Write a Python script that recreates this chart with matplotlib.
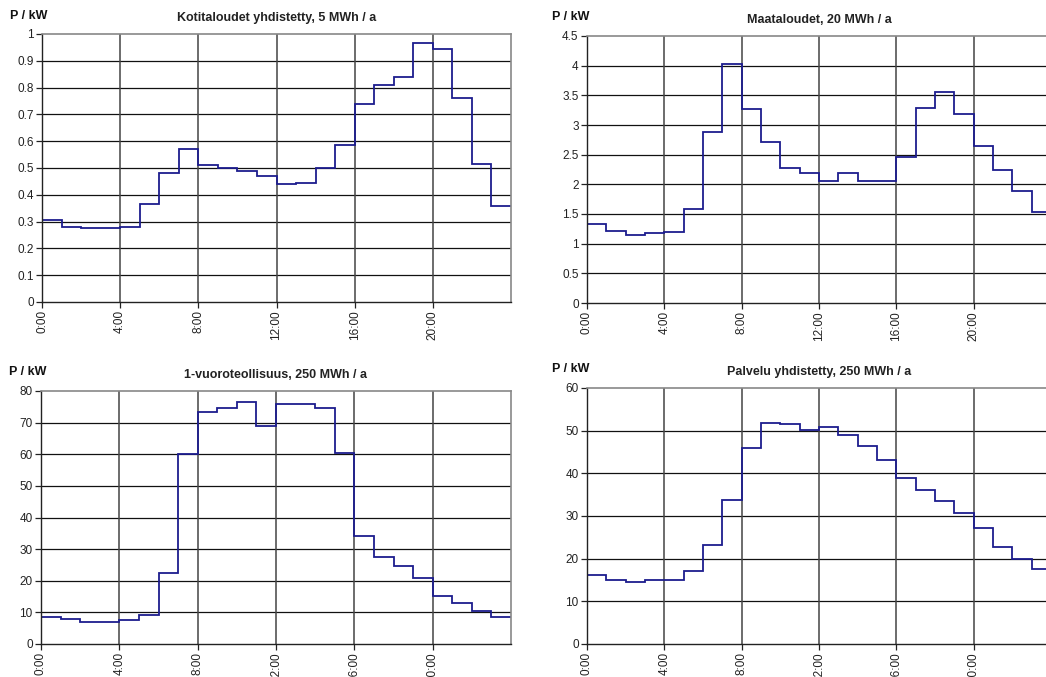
import matplotlib
matplotlib.use("Agg")
import matplotlib.pyplot as plt
import numpy as np

plt.rcParams['font.family'] = ['Liberation Sans', 'DejaVu Sans']

hours = list(range(25))
xtick_hours = [0, 4, 8, 12, 16, 20]
xtick_labels = ["0:00", "4:00", "8:00", "12:00", "16:00", "20:00"]

title_koti = "Kotitaloudet yhdistetty, 5 MWh / a"
koti = [0.305, 0.28, 0.275, 0.275, 0.28, 0.365, 0.48, 0.57, 0.51, 0.50, 0.49, 0.47,
        0.44, 0.445, 0.50, 0.585, 0.74, 0.81, 0.84, 0.965, 0.945, 0.76, 0.515, 0.36]
koti_yticks = [0, 0.1, 0.2, 0.3, 0.4, 0.5, 0.6, 0.7, 0.8, 0.9, 1]
koti_ylabels = ["0", "0.1", "0.2", "0.3", "0.4", "0.5", "0.6", "0.7", "0.8", "0.9", "1"]

title_maa = "Maataloudet, 20 MWh / a"
maa = [1.33, 1.22, 1.15, 1.18, 1.20, 1.59, 2.88, 4.02, 3.27, 2.71, 2.28, 2.19,
       2.06, 2.19, 2.06, 2.06, 2.46, 3.29, 3.55, 3.18, 2.65, 2.25, 1.88, 1.53]
maa_yticks = [0, 0.5, 1, 1.5, 2, 2.5, 3, 3.5, 4, 4.5]
maa_ylabels = ["0", "0.5", "1", "1.5", "2", "2.5", "3", "3.5", "4", "4.5"]

title_teol = "1-vuoroteollisuus, 250 MWh / a"
teol = [8.5, 7.8, 7.0, 6.8, 7.5, 9.3, 22.5, 60.0, 73.5, 74.5, 76.5, 68.8,
        75.8, 76.0, 74.5, 60.3, 34.0, 27.5, 24.8, 20.8, 15.3, 13.1, 10.3, 8.4]
teol_yticks = [0, 10, 20, 30, 40, 50, 60, 70, 80]
teol_ylabels = ["0", "10", "20", "30", "40", "50", "60", "70", "80"]

title_palv = "Palvelu yhdistetty, 250 MWh / a"
palv = [16.2, 14.9, 14.6, 15.1, 15.1, 17.1, 23.1, 33.8, 46.0, 51.9, 51.6, 50.1,
        50.8, 48.9, 46.4, 43.1, 38.9, 36.2, 33.4, 30.6, 27.1, 22.8, 20.0, 17.5]
palv_yticks = [0, 10, 20, 30, 40, 50, 60]
palv_ylabels = ["0", "10", "20", "30", "40", "50", "60"]

ylabel_text = "P / kW"

W, H = 1046, 677
fig = plt.figure(figsize=(W / 100, H / 100), dpi=100)

LINE = "#1c1c8e"

def px_axes(x0, y0, x1, y1):
    return fig.add_axes([x0 / W, 1 - y1 / H, (x1 - x0) / W, (y1 - y0) / H])

def panel(box, vals, yt, yl, title, title_y, lab_xy):
    ax = px_axes(*box)
    ax.stairs(vals, hours, color=LINE, lw=1.3, baseline=None)
    ax.set_xlim(0, 24)
    ax.set_ylim(yt[0], yt[-1])
    ax.set_yticks(yt)
    ax.set_yticklabels(yl, fontsize=8.5)
    ax.set_xticks(xtick_hours)
    ax.set_xticklabels(xtick_labels, rotation=90, fontsize=8.5)
    for y in yt[1:-1]:
        ax.axhline(y, color="#111111", lw=0.9, zorder=0)
    for x in xtick_hours[1:]:
        ax.axvline(x, color="#444444", lw=1.1, zorder=0)
    for s in ["top", "right"]:
        ax.spines[s].set_color("#888888")
        ax.spines[s].set_linewidth(1.2)
    for s in ["left", "bottom"]:
        ax.spines[s].set_color("#222222")
        ax.spines[s].set_linewidth(1.0)
    ax.tick_params(axis="both", direction="out", length=4, width=0.9, pad=2, colors="#222222")
    ax.tick_params(axis="both", labelcolor="#222222")
    cx = (box[0] + box[2]) / 2
    fig.text(cx / W, 1 - title_y / H, title, fontsize=9, fontweight="bold",
             ha="center", va="center", color="#222222")
    fig.text(lab_xy[0] / W, 1 - lab_xy[1] / H, ylabel_text, fontsize=9, fontweight="bold",
             ha="left", va="center", color="#111111")
    return ax

panel((42, 34, 511, 302), koti, koti_yticks, koti_ylabels, title_koti, 18, (10, 16))
panel((587, 36, 1051, 303), maa, maa_yticks, maa_ylabels, title_maa, 20, (552, 17))
panel((41, 391, 511, 644), teol, teol_yticks, teol_ylabels, title_teol, 375, (9, 372))
panel((587, 388, 1051, 644), palv, palv_yticks, palv_ylabels, title_palv, 372, (552, 369))

fig.savefig("out.png", dpi=100)
